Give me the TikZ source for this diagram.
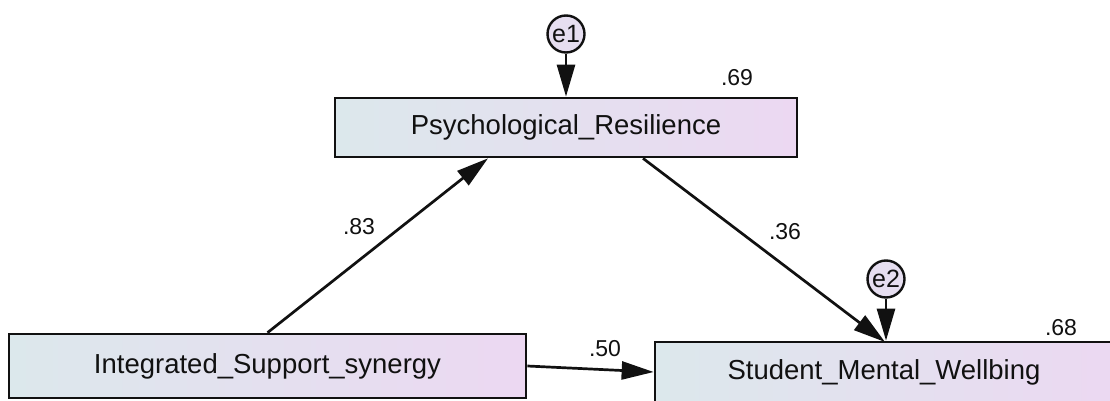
\documentclass[tikz,border=0pt]{standalone}
\usepackage{fontspec}
\setmainfont{Liberation Sans}
\usetikzlibrary{arrows.meta}
\definecolor{boxleft}{HTML}{DCE8EC}
\definecolor{boxright}{HTML}{ECD8F2}
\definecolor{errfill}{HTML}{E6DEF0}
\definecolor{ink}{HTML}{111111}
\tikzset{
  varbox/.style={draw=ink, line width=2.7pt, left color=boxleft, right color=boxright,
    shading angle=90, minimum width=#1, inner sep=0pt, text=ink,
    font=\fontsize{27.5}{30}\selectfont},
  errnode/.style={circle, draw=ink, line width=2.4pt, fill=errfill, minimum size=37pt,
    inner sep=0pt, text=ink, font=\fontsize{25}{28}\selectfont},
  path/.style={draw=ink, line width=2.7pt, -{Triangle[length=32pt, width=18pt]}},
  coef/.style={text=ink, font=\fontsize{23}{25}\selectfont, inner sep=0pt},
}
\begin{document}
\begin{tikzpicture}[x=1pt, y=-1pt]
\useasboundingbox (0,0) rectangle (1110,401);
\fill[white] (0,0) rectangle (1110,401);
\clip (0,0) rectangle (1110,401);
% boxes
\node[varbox=462pt, minimum height=59pt] (PR) at (566,127.5) {Psychological\_Resilience};
\node[varbox=517pt, minimum height=64pt] (ISS) at (267.5,366) {Integrated\_Support\_synergy};
\node[varbox=470pt, minimum height=60pt] (SMW) at (890,372) {};
\node[text=ink, font=\fontsize{27.5}{30}\selectfont] (SMWt) at (884,372) {Student\_Mental\_Wellbing};
% error terms
\node[errnode] (e1) at (566,34) {e1};
\node[errnode] (e2) at (886,279) {e2};
% connectors
\coordinate (PRin) at ([xshift=-78pt]PR.south);
\coordinate (PRout) at ([xshift=77pt]PR.south);
\coordinate (SMWin) at (885,342);
\draw[path] (e1.south) -- (PR.north);
\draw[path] (e2.south) -- (e2.south |- SMW.north);
\draw[path] (ISS.north) -- (PRin);
\draw[path] (PRout) -- (SMWin);
\draw[path] (ISS.east) -- (SMW.west);
% coefficients
\node[coef] (c83) at (359,227) {.83};
\node[coef] (c36) at (785,232) {.36};
\node[coef] (c50) at (605,349) {.50};
\node[coef] (c69) at (737,78) {.69};
\node[coef] (c68) at (1061,328) {.68};
\end{tikzpicture}
\end{document}
